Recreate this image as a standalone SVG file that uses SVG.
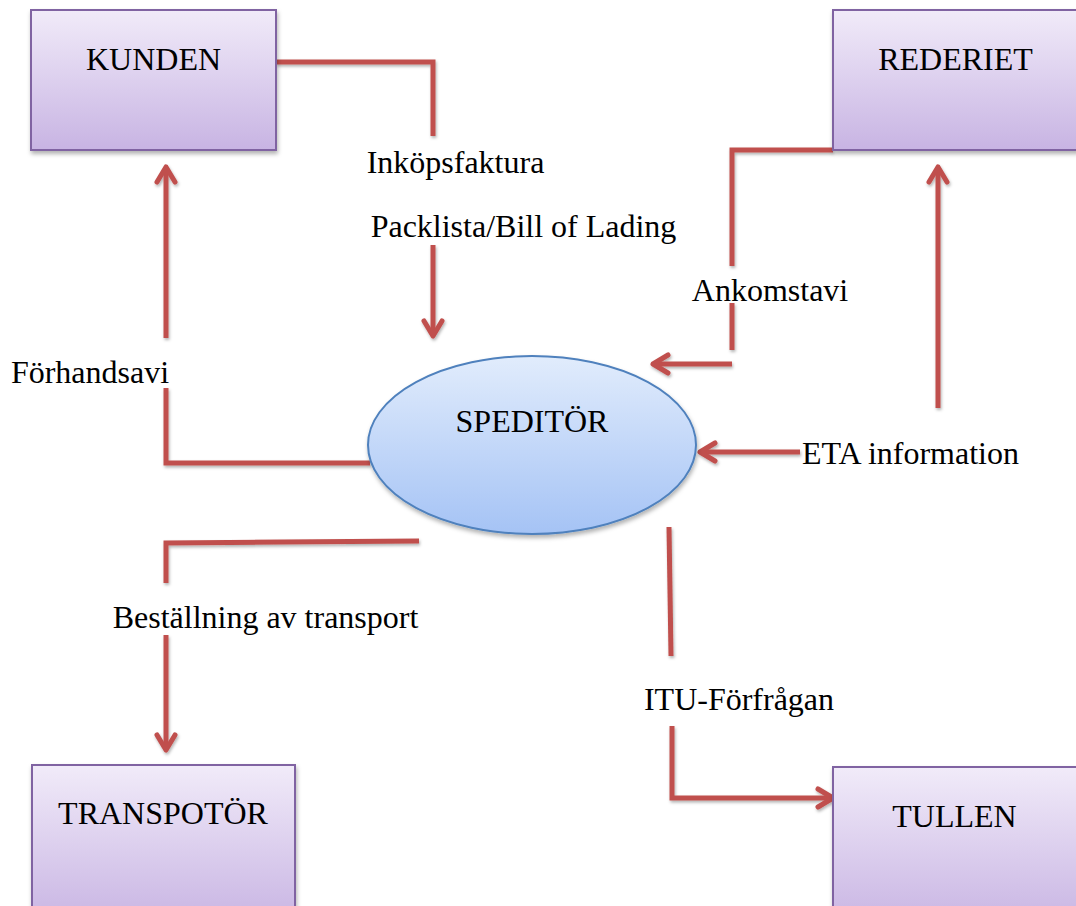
<svg xmlns="http://www.w3.org/2000/svg" width="1076" height="906" viewBox="0 0 1076 906">
  <defs>
    <linearGradient id="boxGrad" x1="0" y1="0" x2="0" y2="1">
      <stop offset="0" stop-color="#F1EBF9"/>
      <stop offset="1" stop-color="#C8B4E3"/>
    </linearGradient>
    <linearGradient id="ellGrad" x1="0" y1="0" x2="0" y2="1">
      <stop offset="0" stop-color="#E1ECFC"/>
      <stop offset="1" stop-color="#A5C3F5"/>
    </linearGradient>
    <filter id="shadow" x="-10%" y="-10%" width="130%" height="130%">
      <feDropShadow dx="1" dy="3" stdDeviation="2" flood-color="#000" flood-opacity="0.3"/>
    </filter>
    <filter id="lshadow" x="-20%" y="-20%" width="140%" height="140%">
      <feDropShadow dx="1" dy="2" stdDeviation="1.5" flood-color="#000" flood-opacity="0.3"/>
    </filter>
    <marker id="arrow" markerUnits="userSpaceOnUse" viewBox="-22 -14 28 28" markerWidth="28" markerHeight="28" refX="0" refY="0" orient="auto" overflow="visible">
      <path d="M -15 -9 L 0 0 L -15 9" fill="none" stroke="#C0504D" stroke-width="5" stroke-linecap="round" stroke-linejoin="round"/>
    </marker>
    <style>
      .box { fill: url(#boxGrad); stroke: #8064A2; stroke-width: 2; filter: url(#shadow); }
      .ell { fill: url(#ellGrad); stroke: #4F81BD; stroke-width: 2; filter: url(#shadow); }
      .lbl { font-family: "Liberation Serif", "Times New Roman", serif; font-size: 32px; fill: #000; }
      .mid { text-anchor: middle; }
      .con { fill: none; stroke: #C0504D; stroke-width: 5; stroke-linejoin: miter; }
      .arr { marker-end: url(#arrow); }
    </style>
  </defs>
  <rect width="1076" height="906" fill="#FFFFFF"/>

  <g id="connectors" filter="url(#lshadow)">
    <!-- KUNDEN -> SPEDITÖR (Inköpsfaktura / Packlista) -->
    <path class="con" d="M 276 62 L 433 62 L 433 136"/>
    <path class="con arr" d="M 433 245 L 433 336"/>
    <!-- REDERIET -> SPEDITÖR (Ankomstavi) -->
    <path class="con" d="M 833 150 L 732 150 L 732 266"/>
    <path class="con" d="M 732 303 L 732 350"/>
    <path class="con arr" d="M 732 364 L 653 364"/>
    <!-- ETA information -->
    <path class="con arr" d="M 938 408 L 938 167"/>
    <path class="con arr" d="M 800 452 L 700 452"/>
    <!-- SPEDITÖR -> KUNDEN (Förhandsavi) -->
    <path class="con" d="M 370 463 L 166 463 L 166 449"/>
    <path class="con" d="M 166 449 L 166 388"/>
    <path class="con arr" d="M 166 338 L 166 167"/>
    <!-- SPEDITÖR -> TRANSPOTÖR (Beställning av transport) -->
    <path class="con" d="M 419 541 L 166 543 L 166 583"/>
    <path class="con arr" d="M 166 635 L 166 750"/>
    <!-- SPEDITÖR -> TULLEN (ITU-Förfrågan) -->
    <path class="con" d="M 669 527 L 671 656"/>
    <path class="con arr" d="M 672 726 L 672 798 L 833 798"/>
  </g>

  <g id="kunden">
    <rect class="box" x="31" y="10" width="245" height="140"/>
    <text class="lbl mid" x="153.5" y="70">KUNDEN</text>
  </g>
  <g id="rederiet">
    <rect class="box" x="833" y="10" width="245" height="140"/>
    <text class="lbl mid" x="955.5" y="70">REDERIET</text>
  </g>
  <g id="transpotor">
    <rect class="box" x="32" y="765" width="263" height="160"/>
    <text class="lbl mid" x="163" y="824">TRANSPOTÖR</text>
  </g>
  <g id="tullen">
    <rect class="box" x="833" y="767" width="250" height="160"/>
    <text class="lbl mid" x="954.5" y="827">TULLEN</text>
  </g>
  <g id="speditor">
    <ellipse class="ell" cx="532" cy="445" rx="164" ry="89"/>
    <text class="lbl mid" x="532" y="432">SPEDITÖR</text>
  </g>

  <g id="labels">
    <text class="lbl mid" x="455.5" y="173">Inköpsfaktura</text>
    <text class="lbl mid" x="523.5" y="237">Packlista/Bill of Lading</text>
    <text class="lbl mid" x="770" y="301">Ankomstavi</text>
    <text class="lbl mid" x="90" y="383">Förhandsavi</text>
    <text class="lbl" x="802" y="464">ETA information</text>
    <text class="lbl mid" x="265.5" y="628">Beställning av transport</text>
    <text class="lbl mid" x="739" y="710">ITU-Förfrågan</text>
  </g>
</svg>
